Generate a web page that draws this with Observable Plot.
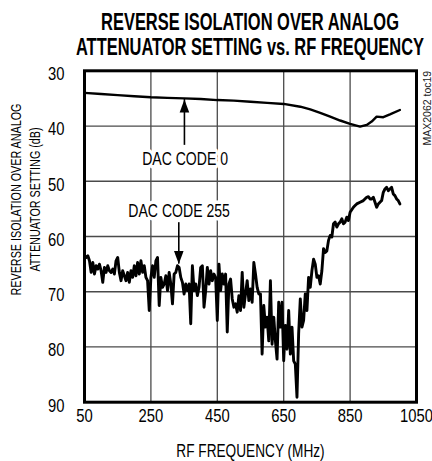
<!DOCTYPE html>
<html>
<head>
<meta charset="utf-8">
<script src="https://cdn.jsdelivr.net/npm/d3@7"></script>
<script src="https://cdn.jsdelivr.net/npm/@observablehq/plot@0.6"></script>
<style>
  html, body { margin: 0; padding: 0; background: white; }
  #wrap { width: 432px; height: 461px; position: relative; }
  #title { position: relative; width: 432px; height: 62px; }
  #title div { position: absolute; left: 250px; white-space: nowrap; font-family: "Liberation Sans", Arial, sans-serif;
    font-weight: bold; font-size: 23px; line-height: 25px; color: #000; transform: translateX(-50%) scaleX(0.715); }
  #chart svg { display: block; }
</style>
</head>
<body>
<div id="wrap">
  <div id="title">
    <div style="top:9.5px">REVERSE ISOLATION OVER ANALOG</div>
    <div style="top:34.5px">ATTENUATOR SETTING vs. RF FREQUENCY</div>
  </div>
  <div id="chart"></div>
</div>
<script>
// ---- data ----
const xTicks = [50, 250, 450, 650, 850, 1050];
const yTicks = [30, 40, 50, 60, 70, 80, 90];
const xGrid = [250, 450, 650, 850];
const yGrid = [40, 50, 60, 70, 80];
const xDomain = [50, 1050];
const yDomain = [30, 90];

const code0Freq = [50,100,150,200,250,300,350,400,450,500,550,600,650,700,730,760,790,820,850,880,900,915,930,950,970,1000];
const code0Val  = [34.0,34.2,34.4,34.6,34.8,34.9,35.0,35.1,35.3,35.4,35.6,35.8,36.0,36.5,37.0,37.6,38.3,39.0,39.6,40.1,39.8,39.2,38.3,38.4,37.9,37.1];

const code255Freq = [50,55,60,65,70,75,80,85,90,95,100,105,110,115,120,125,130,135,140,145,150,155,160,165,170,175,180,185,190,195,
  200,205,210,215,220,225,230,235,240,245,250,255,260,265,270,275,280,285,290,295,300,305,310,315,320,325,330,335,340,345,
  350,355,360,365,370,375,380,385,390,395,400,405,410,415,420,425,430,435,440,445,450,455,460,465,470,475,480,485,490,495,
  500,505,510,515,520,525,530,535,540,545,550,555,560,565,570,575,580,585,590,595,600,605,610,615,620,625,630,635,640,645,
  650,655,660,665,670,675,680,685,690,695,700,705,710,715,720,725,730,735,740,745,750,755,760,765,770,775,780,785,790,795,
  800,805,810,815,820,825,830,835,840,845,850,860,865,870,880,890,900,905,910,915,920,925,930,935,940,945,950,955,960,965,
  970,975,980,985,990,995,1000];
const code255Val = [63.5,63.8,63.5,64.4,66.5,64.7,66.8,65.3,65.9,65.0,66.2,68.3,65.6,66.5,65.3,66.2,66.5,65.9,66.8,64.4,63.8,66.5,68.0,66.2,67.1,68.0,66.5,68.3,66.2,67.4,
  65.3,67.1,64.7,66.8,64.4,66.5,65.3,67.4,68.0,73.4,67.4,65.3,67.4,64.4,63.8,72.5,67.4,69.2,68.6,67.1,69.8,66.5,68.6,72.2,66.8,66.5,65.3,65.6,67.4,68.3,
  70.4,68.6,69.8,68.6,75.8,65.3,69.8,68.6,70.7,69.2,65.6,65.3,72.8,69.8,65.6,68.6,66.2,68.0,66.8,67.4,75.2,65.0,69.8,66.8,68.6,66.8,77.3,68.6,67.7,71.3,
  72.8,72.2,73.7,70.7,73.4,66.5,72.8,70.4,68.0,71.6,69.5,71.9,64.7,66.8,69.2,70.4,70.4,81.3,72.5,76.4,74.6,78.9,68.0,79.5,74.6,78.9,82.2,71.9,76.4,71.9,
  82.5,76.1,80.4,73.4,81.3,76.4,82.5,83.1,89.1,77.6,71.3,76.4,75.2,70.4,73.4,67.4,69.2,66.2,64.1,65.0,67.4,67.1,68.6,66.2,62.2,62.9,62.6,60.7,59.8,60.1,
  57.7,57.4,58.3,57.7,57.4,56.8,57.7,57.4,56.5,57.1,55.6,54.7,54.4,54.1,53.8,53.5,52.9,52.8,53.2,53.2,52.9,53.8,54.7,54.1,53.8,53.5,52.0,51.4,51.1,51.7,
  51.4,51.1,52.3,52.6,53.2,53.5,54.1];

const labelText = ["DAC CODE 0", "DAC CODE 255"];
const labelFreq = [353, 335];
const labelDb   = [45.9, 55.4];

const arrowFreq = [351, 334];
const arrowFrom = [43.5, 57.5];
const arrowTip  = [35.2, 65.0];
const arrowUp   = [true, false];

const xTitle = "RF FREQUENCY (MHz)";
const yTitle = "REVERSE ISOLATION OVER ANALOG\nATTENUATOR SETTING (dB)";
const sideNote = "MAX2062 toc19";

// ---- build tables ----
const code0 = code0Freq.map((f, i) => ({f, v: code0Val[i]}));
const code255 = code255Freq.map((f, i) => ({f, v: code255Val[i]}));
const labels = labelText.map((t, i) => ({t, f: labelFreq[i], v: labelDb[i]}));
const arrows = arrowFreq.map((f, i) => ({f, from: arrowFrom[i], tip: arrowTip[i], up: arrowUp[i]}));
const gridV = xGrid.map(x => ({x, lo: yDomain[0], hi: yDomain[1]}));
const gridH = yGrid.map(y => ({y, lo: xDomain[0], hi: xDomain[1]}));

const headSymbol = {
  draw(ctx) {
    const h = 13, w = 4.8;
    ctx.moveTo(0, 0); ctx.lineTo(-w, h); ctx.lineTo(w, h); ctx.closePath();
  }
};

const font = "'Liberation Sans', Arial, sans-serif";

const chart = Plot.plot({
  width: 432, height: 399,
  marginTop: 8.3, marginBottom: 59.3, marginLeft: 84, marginRight: 16,
  style: {fontFamily: font, fontSize: "18.5px", color: "#000", background: "white", overflow: "visible"},
  x: {domain: xDomain},
  y: {domain: yDomain, reverse: true},
  marks: [
    Plot.ruleX(gridV, {x: "x", y1: "lo", y2: "hi", stroke: "#4a4a4a", strokeWidth: 1.3}),
    Plot.ruleY(gridH, {y: "y", x1: "lo", x2: "hi", stroke: "#4a4a4a", strokeWidth: 1.3}),
    Plot.line(code0, {x: "f", y: "v", stroke: "#000", strokeWidth: 2.4}),
    Plot.line(code255, {x: "f", y: "v", stroke: "#000", strokeWidth: 2.9, strokeLinejoin: "round"}),
    Plot.text(labels, {x: "f", y: "v", text: "t", fontSize: 18.5, fill: "#000", stroke: "white", strokeWidth: 7,
      textAnchor: "middle", lineAnchor: "middle"}),
    Plot.ruleX(arrows, {x: "f", y1: "from", y2: "tip", stroke: "#000", strokeWidth: 1.6}),
    Plot.dot(arrows, {x: "f", y: "tip", symbol: headSymbol, rotate: d => d.up ? 0 : 180, fill: "#000", stroke: "none", r: 5}),
    Plot.frame({stroke: "#000", strokeWidth: 3}),
    Plot.axisX({ticks: xTicks, tickSize: 0, tickPadding: 6.5, tickFormat: d => String(d), label: null, fontSize: 18.5}),
    Plot.axisY({ticks: yTicks, tickSize: 0, tickPadding: 20, tickFormat: d => String(d), label: null, fontSize: 18.5, dy: 3.5}),
    Plot.text([xTitle], {frameAnchor: "bottom", dy: 42, lineAnchor: "top", textAnchor: "middle", fontSize: 17.5, fill: "#000"}),
    Plot.text([yTitle], {frameAnchor: "left", dx: -60.5, dy: -37, rotate: -90, lineAnchor: "middle", textAnchor: "middle",
      fontSize: 14, lineHeight: 1.36, fill: "#000"}),
    Plot.text([sideNote], {frameAnchor: "top-right", dx: 11, dy: 0, rotate: -90, textAnchor: "end", lineAnchor: "middle",
      fontSize: 10.5, fill: "#222"})
  ]
});

// condense the text horizontally (narrow typeface look)
function scaleOf(t) {
  const g = t.closest("g[aria-label]");
  const lab = g ? g.getAttribute("aria-label") : "";
  if (lab === "x-axis tick label" || lab === "y-axis tick label") return 0.8;
  const s = t.textContent;
  if (s.startsWith("DAC")) return 0.76;
  if (s.startsWith("RF")) return 0.78;
  if (s.startsWith("REVERSE")) return 0.77;
  return 1;
}
chart.querySelectorAll("text").forEach(t => {
  const s = scaleOf(t);
  if (s === 1) return;
  const x = parseFloat(t.getAttribute("x")) || 0;
  const tr = t.getAttribute("transform") || "";
  t.setAttribute("transform", `${tr} translate(${x},0) scale(${s},1) translate(${-x},0)`);
});

document.getElementById("chart").appendChild(chart);
</script>
</body>
</html>
